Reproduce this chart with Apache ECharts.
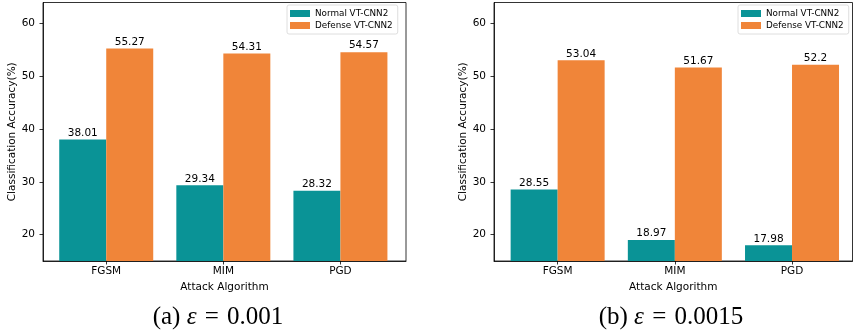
<!DOCTYPE html>
<html>
<head>
<meta charset="utf-8">
<script src="https://cdn.jsdelivr.net/npm/echarts@6/dist/echarts.min.js"></script>
<style>
html, body { margin: 0; padding: 0; background: #fff; }
#chart { width: 853px; height: 333px; }
</style>
</head>
<body>
<div id="chart"></div>
<script>
var attacks = ['FGSM', 'MIM', 'PGD'];
var normalA = [38.01, 29.34, 28.32];
var defenseA = [55.27, 54.31, 54.57];
var normalB = [28.55, 18.97, 17.98];
var defenseB = [53.04, 51.67, 52.2];
var yTicks = [20, 30, 40, 50, 60];
var names = ['Normal VT-CNN2', 'Defense VT-CNN2'];

var teal = '#0a9396';
var orange = '#f08539';
var sans = 'DejaVu Sans';
var serif = 'Liberation Serif';

function pts(vals) {
    return vals.map(function (v, i) { return [i, v]; });
}

function xAxisFor(idx, min, max) {
    return {
        type: 'value',
        gridIndex: idx,
        min: min,
        max: max,
        splitLine: {show: false},
        axisLine: {show: true, onZero: false, lineStyle: {color: '#000', width: 0.8}},
        axisTick: {show: true, customValues: [0, 1, 2], length: 3.5, lineStyle: {color: '#000', width: 0.8}},
        axisLabel: {
            customValues: [0, 1, 2],
            margin: 5,
            color: '#000',
            fontFamily: sans,
            fontSize: 10.5,
            formatter: function (v) { return attacks[Math.round(v)]; }
        },
        name: 'Attack Algorithm',
        nameLocation: 'middle',
        nameGap: 19,
        nameTextStyle: {color: '#000', fontFamily: sans, fontSize: 10.5}
    };
}

function yAxisFor(idx, gap) {
    return {
        type: 'value',
        gridIndex: idx,
        min: 15,
        max: 64,
        splitLine: {show: false},
        axisLine: {show: true, onZero: false, lineStyle: {color: '#000', width: 0.8}},
        axisTick: {show: true, customValues: yTicks, length: 3.5, lineStyle: {color: '#000', width: 0.8}},
        axisLabel: {customValues: yTicks, margin: 8, color: '#000', fontFamily: sans, fontSize: 10.5},
        name: 'Classification Accuracy(%)',
        nameLocation: 'middle',
        nameGap: gap,
        nameTextStyle: {color: '#000', fontFamily: sans, fontSize: 10.5}
    };
}

function barSeries(name, idx, vals, color) {
    return {
        name: name,
        type: 'bar',
        xAxisIndex: idx,
        yAxisIndex: idx,
        data: pts(vals),
        barWidth: 47,
        barGap: '0%',
        itemStyle: {color: color},
        label: {
            show: true,
            position: 'top',
            distance: 1,
            color: '#000',
            fontFamily: sans,
            fontSize: 10.5,
            formatter: function (p) { return p.value[1]; }
        }
    };
}

function legendAt(left) {
    return {
        data: names,
        orient: 'vertical',
        left: left,
        top: 5,
        padding: [4, 5, 4, 3],
        itemWidth: 20,
        itemHeight: 7,
        itemGap: 3,
        icon: 'rect',
        borderColor: '#d6d6d6',
        borderWidth: 0.8,
        borderRadius: 2,
        backgroundColor: 'rgba(255,255,255,0.8)',
        textStyle: {color: '#000', fontFamily: sans, fontSize: 8.8}
    };
}

var captionStyle = {
    fontFamily: serif,
    fontSize: 25,
    fontWeight: 'normal',
    color: '#000',
    rich: {
        e: {fontFamily: serif, fontSize: 25, fontStyle: 'italic', color: '#000'},
        q: {fontFamily: serif, fontSize: 25, color: '#000', padding: [0, 2, 0, 2]}
    }
};

option = {
    backgroundColor: '#fff',
    animation: false,
    title: [
        {text: '(a) {e|ε} {q|=} 0.001', left: 213, top: 300, textAlign: 'center', textStyle: captionStyle},
        {text: '(b) {e|ε} {q|=} 0.0015', left: 666, top: 300, textAlign: 'center', textStyle: captionStyle}
    ],
    legend: [legendAt(287), legendAt(738)],
    grid: [
        {left: 43, top: 2.5, width: 363, height: 258.5, show: true, borderColor: '#000', borderWidth: 0.8},
        {left: 494, top: 2.5, width: 358.5, height: 258.5, show: true, borderColor: '#000', borderWidth: 0.8}
    ],
    xAxis: [xAxisFor(0, -0.54, 2.56), xAxisFor(1, -0.543, 2.516)],
    yAxis: [yAxisFor(0, 23), yAxisFor(1, 24)],
    series: [
        barSeries(names[0], 0, normalA, teal),
        barSeries(names[1], 0, defenseA, orange),
        barSeries(names[0], 1, normalB, teal),
        barSeries(names[1], 1, defenseB, orange)
    ]
};
var myChart = echarts.init(document.getElementById('chart'));
myChart.setOption(option);
</script>
</body>
</html>
